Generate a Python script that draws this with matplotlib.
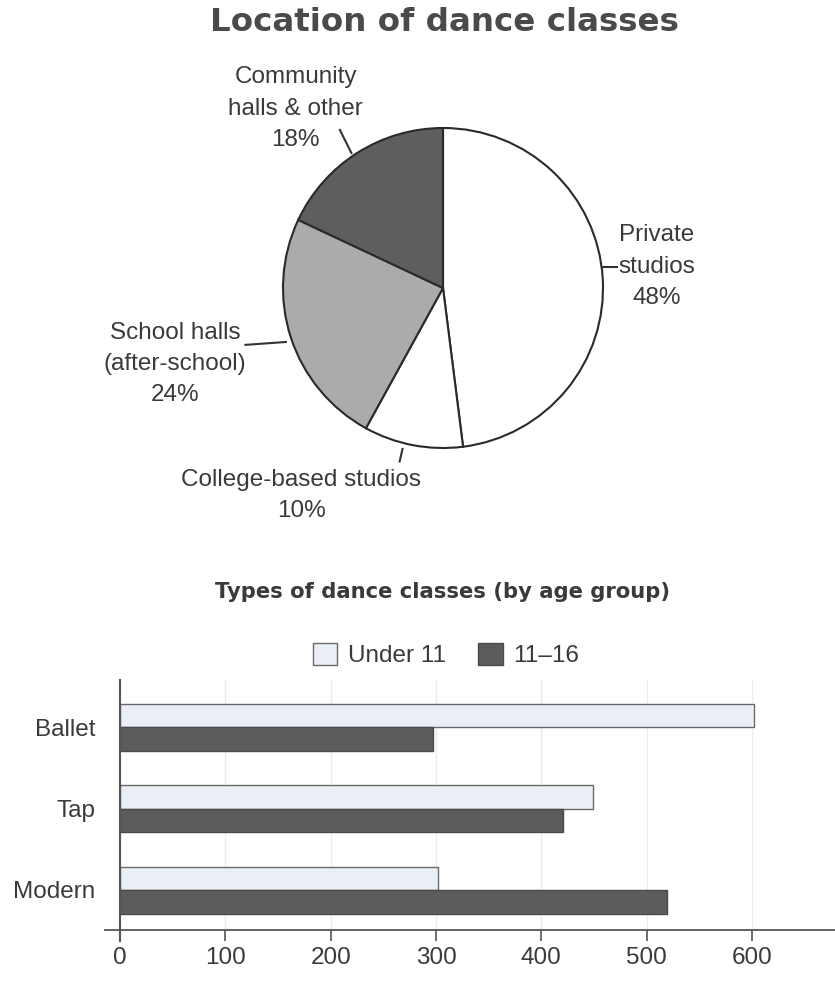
import matplotlib
matplotlib.use("Agg")
import matplotlib.pyplot as plt
import numpy as np
from matplotlib.patches import Patch

plt.rcParams['font.family'] = ['Liberation Sans', 'DejaVu Sans']

# data
pie_labels = ["Private\nstudios", "College-based studios", "School halls\n(after-school)", "Community\nhalls & other"]
pie_values = [48, 10, 24, 18]
pie_colors = ["#ffffff", "#ffffff", "#ababab", "#5e5e5e"]

dance_types = ["Ballet", "Tap", "Modern"]
under_11 = [602, 449, 302]
age_11_16 = [297, 421, 519]
x_ticks = [0, 100, 200, 300, 400, 500, 600]

txt = "#3a3a3a"
fs = 17.5

fig = plt.figure(figsize=(8.35, 10), dpi=100)

# titel
fig.text(444 / 835, 1 - 31 / 1000, "Location of dance classes", ha="center", va="baseline",
         fontsize=23.4, fontweight="bold", color="#4a4a4a", family="DejaVu Sans")

# PIE
R = 166.0
ax = fig.add_axes([(443 - 200) / 835, (1000 - 288 - 200) / 1000, 400 / 835, 400 / 1000])
ax.set_xlim(-200 / R, 200 / R)
ax.set_ylim(-200 / R, 200 / R)
ax.axis("off")
ax.pie(pie_values, colors=pie_colors, startangle=90, counterclock=False, radius=1,
       wedgeprops=dict(edgecolor="#2a2a2a", linewidth=1.5))

def px(x, y):
    return (x - 443) / R, (288 - y) / R

# labels: label centre px, leader line start px, end px
lab_pos = [(665, 266), (296, 503), (165, 367), (290, 102)]
lead = [((608, 266), (624, 266)), ((401, 455), (398, 468)),
        ((280, 344), (238, 347)), ((348, 148), (336, 124))]
for i, name in enumerate(pie_labels):
    s = name + "\n" + str(pie_values[i]) + "%"
    x, y = px(*lab_pos[i])
    ax.text(x, y, s, ha="center", va="center", fontsize=fs, color=txt,
            linespacing=1.55, clip_on=False)
    (x0, y0), (x1, y1) = lead[i]
    a0 = px(x0, y0)
    a1 = px(x1, y1)
    ax.plot([a0[0], a1[0]], [a0[1], a1[1]], color="#333333", lw=1.5, clip_on=False)

# BAR
fig.text(443 / 835, 1 - 598 / 1000, "Types of dance classes (by age group)", ha="center",
         va="baseline", fontsize=15.2, fontweight="bold", color=txt, family="DejaVu Sans")

b = fig.add_axes([105 / 835, 70 / 1000, 730 / 835, 250 / 1000])
scale = (752 - 120) / 600.0
b.set_xlim(-15 / scale, 715 / scale)
pos = np.array([2, 1, 0])
step = 81.5
b.set_ylim(-40 / step, 210 / step)
h = 23.5 / step

b.grid(axis="x", color="#ececec", lw=1)
b.set_axisbelow(True)
b.barh(pos + h / 2, under_11, height=h, color="#eaeef5", edgecolor="#6a6a6a", lw=1, label="Under 11")
b.barh(pos - h / 2, age_11_16, height=h, color="#5c5c5c", edgecolor="#4a4a4a", lw=1, label="11\u201316")

for sp in ["top", "right", "left"]:
    b.spines[sp].set_visible(False)
b.spines["bottom"].set_color("#555555")
b.spines["bottom"].set_linewidth(1.3)
b.plot([0, 0], [-51 / step, 210 / step], color="#555555", lw=1.5, clip_on=False)

b.set_xticks(x_ticks)
b.set_xticklabels([str(t) for t in x_ticks])
b.tick_params(axis="x", length=8, width=1.2, color="#555555", labelsize=fs,
              labelcolor=txt, pad=4)
b.set_yticks(pos)
b.set_yticklabels(dance_types)
b.tick_params(axis="y", length=0, labelsize=fs, labelcolor=txt, pad=7)

handles = [Patch(facecolor="#eaeef5", edgecolor="#6a6a6a", label="Under 11"),
           Patch(facecolor="#5c5c5c", edgecolor="#4a4a4a", label="11\u201316")]
fig.legend(handles=handles, loc="center", bbox_to_anchor=(446 / 835, 1 - 655 / 1000), ncol=2,
           frameon=False, fontsize=fs, handlelength=1.0, handleheight=1.0,
           columnspacing=1.33, handletextpad=0.45, labelcolor=txt)

fig.savefig("out.png", dpi=100, facecolor="white")
